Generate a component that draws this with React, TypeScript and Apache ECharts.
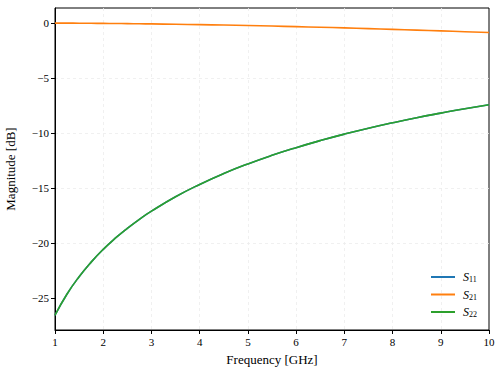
import React, { useEffect, useRef } from "react";
import * as echarts from "echarts";

const freqs = [1, 1.25, 1.5, 1.75, 2, 2.25, 2.5, 2.75, 3, 3.5, 4, 4.5, 5, 5.5, 6, 6.5, 7, 7.5, 8, 8.5, 9, 9.5, 10];
const s11 = [-26.56, -24.63, -23.06, -21.73, -20.57, -19.56, -18.66, -17.84, -17.1, -15.79, -14.67, -13.68, -12.81, -12.03, -11.33, -10.69, -10.1, -9.56, -9.07, -8.61, -8.19, -7.79, -7.43];
const s22 = [-26.56, -24.63, -23.06, -21.73, -20.57, -19.56, -18.66, -17.84, -17.1, -15.79, -14.67, -13.68, -12.81, -12.03, -11.33, -10.69, -10.1, -9.56, -9.07, -8.61, -8.19, -7.79, -7.43];
const s21 = [-0.01, -0.015, -0.022, -0.029, -0.038, -0.048, -0.06, -0.072, -0.086, -0.117, -0.151, -0.191, -0.234, -0.281, -0.333, -0.388, -0.448, -0.511, -0.578, -0.648, -0.72, -0.797, -0.86];
const seriesNames = ["S11", "S21", "S22"];
const xTicks = [1, 2, 3, 4, 5, 6, 7, 8, 9, 10];
const yTicks = [-25, -20, -15, -10, -5, 0];

const FONT = "Liberation Serif";

export default function App() {
  const ref = useRef<HTMLDivElement>(null);
  useEffect(() => {
    document.body.style.margin = "0";
    const chart = echarts.init(ref.current!, null, { renderer: "svg" });
    const colors = ["#1f77b4", "#ff7f0e", "#2ca02c"];
    const datasets = [s11, s21, s22];
    const fmt = (v: number) => String(v).replace("-", "\u2212");
    const split = { show: true, showMinLine: false, showMaxLine: false, lineStyle: { color: "#ececec", type: [3, 3], width: 0.8 } };
    chart.setOption({
      animation: false,
      backgroundColor: "#ffffff",
      grid: {
        left: 55,
        right: 15,
        top: 8,
        bottom: 46,
        outerBoundsMode: "none",
        containLabel: false,
        show: true,
        borderColor: "#000",
        borderWidth: 1,
        backgroundColor: "transparent",
      },
      legend: {
        orient: "vertical",
        right: 22,
        top: 266,
        itemWidth: 24,
        itemHeight: 2,
        itemGap: 5,
        icon: "rect",
        data: seriesNames,
        formatter: (name: string) => `{i|S}{s|${name.slice(1)}}`,
        textStyle: {
          rich: {
            i: { fontFamily: FONT, fontStyle: "italic", fontSize: 12, color: "#000", padding: [0, 0, 0, 3] },
            s: { fontFamily: FONT, fontSize: 8, color: "#000", padding: [5, 0, 0, 0] },
          },
        },
      },
      xAxis: {
        type: "value",
        min: 1,
        max: 10,
        interval: 1,
        name: "Frequency [GHz]",
        nameLocation: "middle",
        nameGap: 23,
        nameTextStyle: { fontFamily: FONT, fontSize: 13, color: "#000" },
        axisLine: { show: true, onZero: false, lineStyle: { color: "#000", width: 1 } },
        axisTick: { show: true, length: 4, lineStyle: { color: "#000" } },
        axisLabel: { fontFamily: FONT, fontSize: 11, color: "#000", margin: 6, customValues: xTicks },
        splitLine: split,
      },
      yAxis: {
        type: "value",
        min: -27.9,
        max: 1.36,
        name: "Magnitude [dB]",
        nameLocation: "middle",
        nameGap: 38,
        nameTextStyle: { fontFamily: FONT, fontSize: 13, color: "#000" },
        axisLine: { show: true, onZero: false, lineStyle: { color: "#000", width: 1 } },
        axisTick: { show: true, length: 4, lineStyle: { color: "#000" }, customValues: yTicks },
        axisLabel: { fontFamily: FONT, fontSize: 11, color: "#000", margin: 6, customValues: yTicks, formatter: fmt },
        splitLine: split,
      },
      series: seriesNames.map((n, k) => ({
        name: n,
        type: "line",
        data: freqs.map((f, i) => [f, datasets[k][i]]),
        smooth: true,
        showSymbol: false,
        symbol: "none",
        color: colors[k],
        lineStyle: { color: colors[k], width: 1.6 },
      })),
    });
    return () => chart.dispose();
  }, []);
  return <div ref={ref} style={{ width: 504, height: 376 }} />;
}
